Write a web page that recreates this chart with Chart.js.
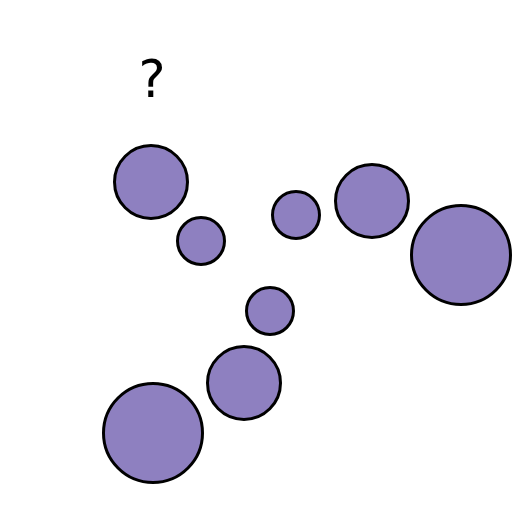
<!DOCTYPE html>
<html>
<head>
<meta charset="utf-8">
<script src="https://cdn.jsdelivr.net/npm/chart.js@4/dist/chart.umd.min.js"></script>
<style>
  html, body { margin: 0; padding: 0; background: #fff; }
  #wrap { width: 512px; height: 512px; }
</style>
</head>
<body>
<div id="wrap"><canvas id="chart"></canvas></div>
<script>
// bubble positions in a 0..512 frame (y measured from top), radius in px
const xValues = [151, 201, 296, 372, 461, 270, 244, 153];
const yValues = [182, 241, 215, 201, 255, 311, 383, 433];
const radii   = [37, 24, 24, 37, 50, 24, 37, 50];

const labelText = ['?'];
const labelX = [152];
const labelY = [84];

const points = xValues.map((x, i) => ({ x: x, y: yValues[i], r: radii[i] - 0.5 }));

const textPlugin = {
	id: 'textLabels',
	afterDatasetsDraw(chart) {
		const ctx = chart.ctx;
		ctx.save();
		ctx.fillStyle = '#000';
		ctx.font = '51px "DejaVu Sans"';
		ctx.textAlign = 'center';
		ctx.textBaseline = 'middle';
		labelText.forEach((t, i) => {
			ctx.fillText(t, chart.scales.x.getPixelForValue(labelX[i]), chart.scales.y.getPixelForValue(labelY[i]));
		});
		ctx.restore();
	}
};

new Chart(document.getElementById('chart').getContext('2d'), {
	type: 'bubble',
	data: {
		datasets: [{
			data: points,
			backgroundColor: '#8e80c0',
			borderColor: '#000',
			borderWidth: 3,
			hoverBorderWidth: 3
		}]
	},
	options: {
		responsive: true,
		maintainAspectRatio: false,
		animation: false,
		events: [],
		layout: { padding: 0, autoPadding: false },
		clip: false,
		scales: {
			x: { type: 'linear', min: 0, max: 512, display: false },
			y: { type: 'linear', min: 0, max: 512, reverse: true, display: false }
		},
		plugins: {
			legend: { display: false },
			tooltip: { enabled: false }
		}
	},
	plugins: [textPlugin]
});
</script>
</body>
</html>
